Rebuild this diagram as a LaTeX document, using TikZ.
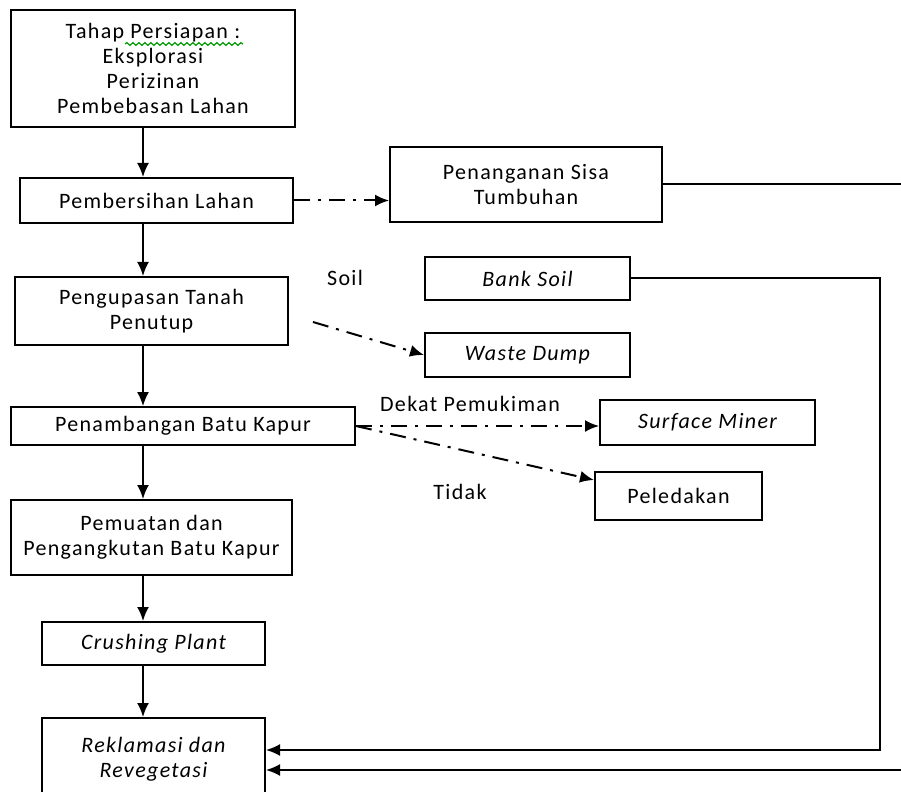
\documentclass[tikz,border=0pt]{standalone}
\usepackage{fontspec}
\setmainfont{Carlito}[LetterSpace=6]
\usetikzlibrary{arrows.meta,decorations.pathmorphing}
\tikzset{
  kotak/.style={draw,line width=1pt,align=center,inner sep=0pt,font=\fontsize{11}{12.5}\selectfont},
  teks/.style={inner sep=0pt,font=\fontsize{11}{12.5}\selectfont},
  panah/.style={line width=1pt,-{Latex[length=7pt,width=6pt]}},
  putus/.style={panah,dash pattern=on 8pt off 4pt on 1.5pt off 4pt},
}
\begin{document}
\begin{tikzpicture}[x=0.5pt,y=-0.5pt]
                \clip (0,0) rectangle (901,792);
                % Alur utama
                \node[kotak,minimum width=142pt,minimum height=58.5pt] (tahap) at (153,68.5)
                     {Tahap Persiapan :\\Eksplorasi\\Perizinan\\Pembebasan Lahan};
                \node[kotak,minimum width=136.5pt,minimum height=22.5pt] (bersih) at (156.5,200.5) {Pembersihan Lahan};
                \node[kotak,minimum width=136.5pt,minimum height=34pt] (kupas) at (151.5,311) {Pengupasan Tanah\\Penutup};
                \node[kotak,minimum width=172pt,minimum height=19pt] (tambang) at (183,426) {Penambangan Batu Kapur};
                \node[kotak,minimum width=140.5pt,minimum height=37.5pt] (muat) at (151.5,537.5) {Pemuatan dan\\Pengangkutan Batu Kapur};
                \node[kotak,minimum width=111.5pt,minimum height=21.5pt] (crush) at (153.5,643.5) {\itshape Crushing Plant};
                \node[kotak,minimum width=111.5pt,minimum height=41pt] (reklam) at (153.5,759) {\itshape Reklamasi dan\\\itshape Revegetasi};
                % Cabang kanan
                \node[kotak,minimum width=136pt,minimum height=37.5pt] (sisa) at (526,184.5) {Penanganan Sisa\\Tumbuhan};
                \node[kotak,minimum width=102.5pt,minimum height=21.5pt] (bank) at (527.5,278.5) {\itshape Bank Soil};
                \node[kotak,minimum width=102.5pt,minimum height=22pt] (waste) at (527.5,355) {\itshape Waste Dump};
                \node[kotak,minimum width=107.5pt,minimum height=22.5pt] (miner) at (707.5,422.5) {\itshape Surface Miner};
                \node[kotak,minimum width=83.5pt,minimum height=24pt] (ledak) at (678.5,496) {Peledakan};
                % Label
                \node[teks] (soil) at (345,278) {Soil};
                \node[teks] (dekat) at (470,404) {Dekat Pemukiman};
                \node[teks] (tidak) at (460,492) {Tidak};
                % Garis bawah ejaan
                \draw[green!60!black,line width=0.6pt,decorate,decoration={snake,amplitude=0.7pt,segment length=3pt}]
                     (125,44) -- (243,44);
                % Panah vertikal
                \coordinate (sumbu) at (143,0);
                \draw[panah] (sumbu |- tahap.south) -- (sumbu |- bersih.north);
                \draw[panah] (sumbu |- bersih.south) -- (sumbu |- kupas.north);
                \draw[panah,line width=0.7pt] (sumbu |- kupas.south) -- (sumbu |- tambang.north);
                \draw[panah] (sumbu |- tambang.south) -- (sumbu |- muat.north);
                \draw[panah] (sumbu |- muat.south) -- (sumbu |- crush.north);
                \draw[panah] (sumbu |- crush.south) -- (sumbu |- reklam.north);
                % Panah putus-putus
                \draw[putus] (bersih.east) -- (bersih.east -| sisa.west);
                \coordinate (awal) at ([xshift=12pt,yshift=-5.5pt]kupas.east);
                \draw[putus] (awal) -- (waste.west);
                \draw[putus] (tambang.east) -- (tambang.east -| miner.west);
                \draw[putus] (tambang.east) -- ([yshift=8pt]ledak.west);
                % Kembali ke reklamasi
                \coordinate (kanan) at (880,0);
                \coordinate (luar) at (930,0);
                \coordinate (masuk1) at ([yshift=4.5pt]reklam.east);
                \coordinate (masuk2) at ([yshift=-5.5pt]reklam.east);
                \draw[panah] (bank.east) -- (bank.east -| kanan) -- (kanan |- masuk1) -- (masuk1);
                \draw[panah] (sisa.east) -- (sisa.east -| luar) -- (luar |- masuk2) -- (masuk2);
\end{tikzpicture}
\end{document}
